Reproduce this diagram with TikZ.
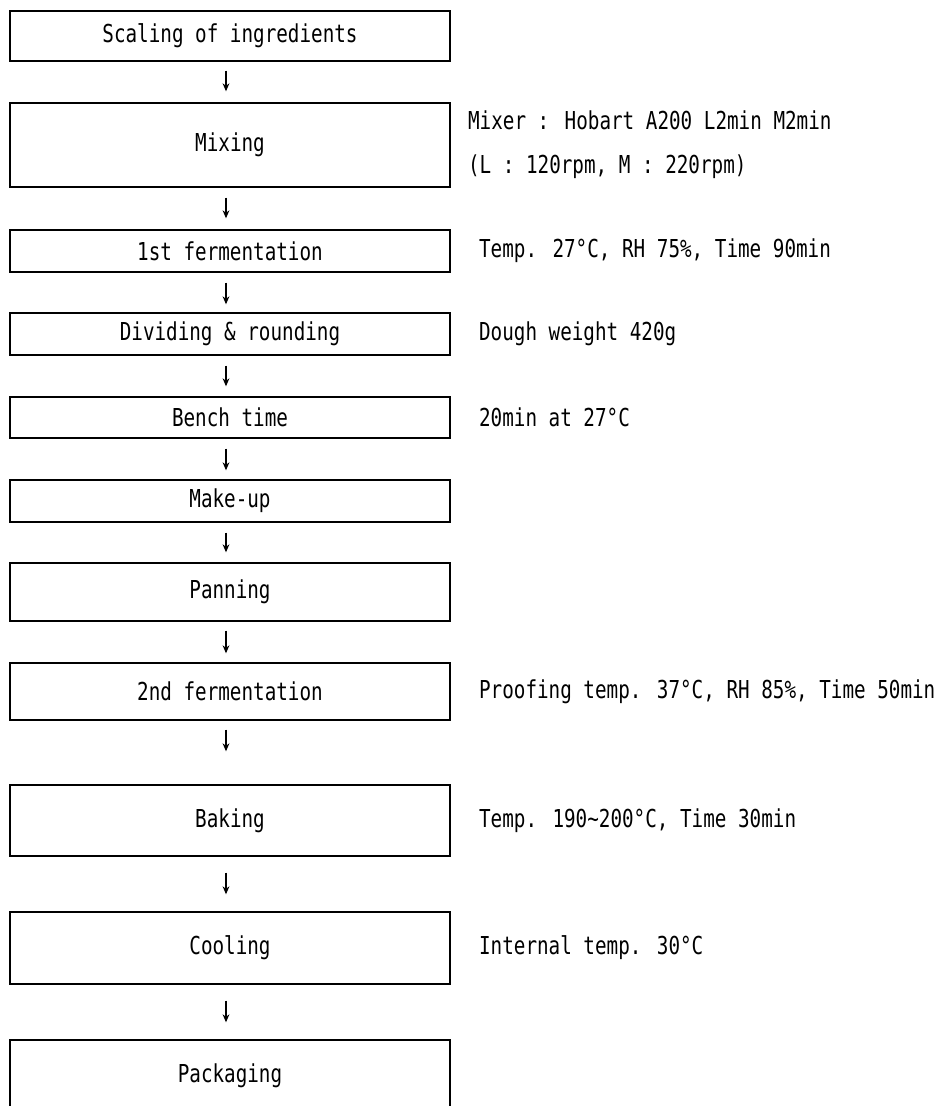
\documentclass[tikz,border=0pt]{standalone}
\usepackage{fontspec}
\setmainfont[FakeStretch=0.78]{DejaVu Sans Mono}
\usepackage{tikz}
\usetikzlibrary{arrows.meta,positioning}
\tikzset{
  stepbox/.style={draw=black,line width=.7pt,minimum width=220pt,
              inner sep=0pt,align=center},
  note/.style={inner sep=0pt,align=left,anchor=west},
  flowarrow/.style={-{Stealth[length=4pt,width=3.4pt]},line width=.55pt},
}
\begin{document}
\begin{tikzpicture}[x=.5pt,y=-.5pt,font=\fontsize{12.35}{22}\selectfont]
  \useasboundingbox (0,0) rectangle (941,1106);
  % process steps, one box each
  \node[stepbox,minimum height=25pt]   (scal)  at (230,36)    {Scaling of ingredients};
  \node[stepbox,minimum height=42pt]   (mix)   at (230,145)   {Mixing};
  \node[stepbox,minimum height=21pt]   (ferm1) at (230,251)   {1st fermentation};
  \node[stepbox,minimum height=21pt]   (divi)  at (230,334)   {Dividing \& rounding};
  \node[stepbox,minimum height=20.5pt] (bench) at (230,417.5) {Bench time};
  \node[stepbox,minimum height=21pt]   (make)  at (230,501)   {Make-up};
  \node[stepbox,minimum height=29pt]   (pan)   at (230,592)   {Panning};
  \node[stepbox,minimum height=28.5pt] (ferm2) at (230,691.5) {2nd fermentation};
  \node[stepbox,minimum height=35.5pt] (bake)  at (230,820.5) {Baking};
  \node[stepbox,minimum height=36pt]   (cool)  at (230,948)   {Cooling};
  \node[stepbox,minimum height=36pt]   (pack)  at (230,1076)  {Packaging};
  % conditions on the right
  \node[note,right=8.5pt of mix]  (mixn)  {Mixer : Hobart A200 L2min M2min\\(L : 120rpm, M : 220rpm)};
  \node[note,right=14pt of ferm1] (ferm1n) {Temp. 27°C, RH 75\%, Time 90min};
  \node[note,right=14pt of divi]  (divin)  {Dough weight 420g};
  \node[note,right=14pt of bench] (benchn) {20min at 27°C};
  \node[note,right=14pt of ferm2] (ferm2n) {Proofing temp. 37°C, RH 85\%, Time 50min};
  \node[note,right=14pt of bake]  (baken)  {Temp. 190\textasciitilde200°C, Time 30min};
  \node[note,right=14pt of cool]  (cooln)  {Internal temp. 30°C};
  % arrows between steps
  \foreach \a/\b/\s/\e in {scal/mix/4.5/5.5, mix/ferm1/5/5.5, ferm1/divi/5/4,
      divi/bench/5/5, bench/make/5/4.5, make/pan/5/5, pan/ferm2/4.5/4.5,
      ferm2/bake/4.5/16.5, bake/cool/8/8.5, cool/pack/8/8.5}
    \draw[flowarrow,shorten <=\s pt,shorten >=\e pt]
      ([xshift=-2pt]\a.south) -- ([xshift=-2pt]\b.north);
\end{tikzpicture}
\end{document}
